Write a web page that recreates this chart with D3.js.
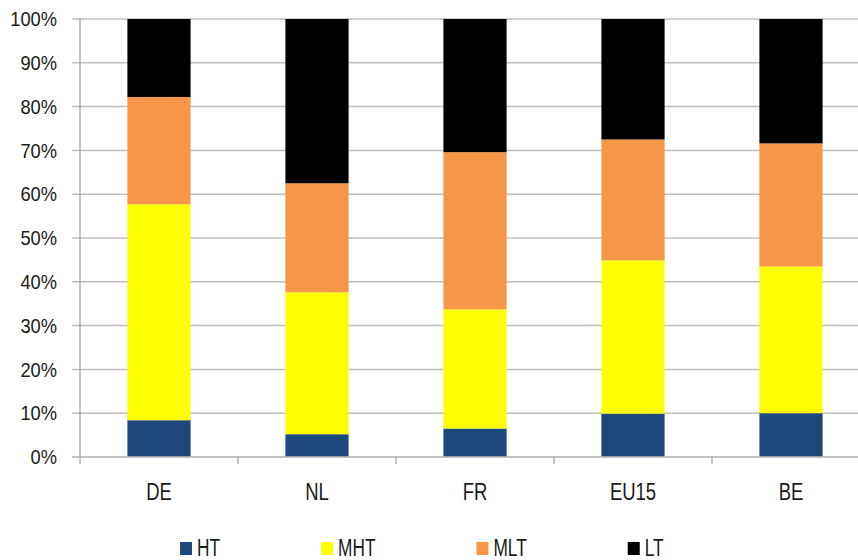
<!DOCTYPE html>
<html>
<head>
<meta charset="utf-8">
<script src="https://cdn.jsdelivr.net/npm/d3@7"></script>
<style>
  html, body { margin: 0; padding: 0; background: #fff; }
  svg { display: block; }
  text { font-family: "Liberation Sans Narrow", "Arial Narrow", "Liberation Sans", sans-serif; fill: #1a1a1a; }
</style>
</head>
<body>
<svg id="chart" width="858" height="560"></svg>
<script>
// Technology-intensity shares of manufacturing, by country (percent of total)
const categories = ["DE", "NL", "FR", "EU15", "BE"];
const seriesNames = ["HT", "MHT", "MLT", "LT"];
const HT  = [8.4, 5.2, 6.5, 9.9, 10.0];
const MHT = [49.3, 32.4, 27.2, 35.0, 33.5];
const MLT = [24.5, 24.9, 35.9, 27.6, 28.1];
const LT  = [17.8, 37.5, 30.4, 27.5, 28.4];
const yTicks = [0, 10, 20, 30, 40, 50, 60, 70, 80, 90, 100];
const colors = ["#1f497d", "#ffff00", "#f79646", "#000000"];

const seriesValues = [HT, MHT, MLT, LT];
const rows = categories.map((c, i) => {
  const r = { cat: c };
  seriesNames.forEach((s, k) => { r[s] = seriesValues[k][i]; });
  return r;
});

// squeeze a text element horizontally (narrow face look) while keeping its anchor x
function narrow(sel, f) {
  sel.each(function () {
    const t = d3.select(this);
    const x0 = +t.attr("x") || 0;
    t.attr("x", x0 / f).attr("transform", `scale(${f},1)`);
  });
}

const svg = d3.select("#chart");
const plotLeft = 80, plotRight = 870, plotTop = 19, plotBottom = 457;

const x = d3.scaleBand().domain(categories).range([plotLeft, plotRight])
  .paddingInner(0.6).paddingOuter(0.3);
const step = x.step();
const y = d3.scaleLinear().domain([0, 100]).range([plotBottom, plotTop]);

// horizontal gridlines
svg.append("g").selectAll("line").data(yTicks).join("line")
  .attr("x1", plotLeft - 8).attr("x2", 858)
  .attr("y1", d => y(d)).attr("y2", d => y(d))
  .attr("stroke", "#bfbfbf").attr("stroke-width", 1.5);

// y axis
const yAxis = d3.axisLeft(y).tickValues(yTicks).tickFormat(d => d + "%").tickSize(0).tickPadding(23);
const gy = svg.append("g").attr("transform", `translate(${plotLeft},0)`).call(yAxis);
gy.select(".domain").remove();
gy.selectAll("text").attr("font-size", 21).attr("font-family", null).style("fill", "#1a1a1a")
  .call(narrow, 0.87);
svg.append("line").attr("x1", plotLeft).attr("x2", plotLeft).attr("y1", plotTop).attr("y2", plotBottom + 7)
  .attr("stroke", "#8c8c8c").attr("stroke-width", 1);

// stacked bars
const stack = d3.stack().keys(seriesNames);
const layers = stack(rows);
svg.append("g").selectAll("g").data(layers).join("g")
  .attr("fill", (d, i) => colors[i])
  .selectAll("rect").data(d => d).join("rect")
  .attr("x", d => x(d.data.cat))
  .attr("width", x.bandwidth())
  .attr("y", d => y(d[1]))
  .attr("height", d => y(d[0]) - y(d[1]));

// category axis
const gx = svg.append("g").attr("transform", `translate(0,${plotBottom})`);
gx.append("line").attr("x1", plotLeft - 8).attr("x2", 858).attr("y1", 0).attr("y2", 0)
  .attr("stroke", "#bfbfbf").attr("stroke-width", 1.5);
gx.selectAll("line.tick").data(categories.slice(1)).join("line").attr("class", "tick")
  .attr("x1", d => x(d) - x.paddingOuter() * step)
  .attr("x2", d => x(d) - x.paddingOuter() * step)
  .attr("y1", 0).attr("y2", 7)
  .attr("stroke", "#8c8c8c");
gx.selectAll("text").data(categories).join("text")
  .attr("x", d => x(d) + x.bandwidth() / 2)
  .attr("y", 43)
  .attr("text-anchor", "middle")
  .attr("font-size", 24)
  .text(d => d)
  .call(narrow, 0.77);

// legend
const legendSqueeze = 0.72;
const legend = svg.append("g").attr("transform", "translate(180,0)");
let lx = 0;
seriesNames.forEach((s, i) => {
  const g = legend.append("g").attr("transform", `translate(${lx},0)`);
  g.append("rect").attr("x", 0).attr("y", 542).attr("width", 12).attr("height", 13).attr("fill", colors[i]);
  const t = g.append("text").attr("x", 17).attr("y", 556).attr("font-size", 24).text(s);
  const w = t.node().getComputedTextLength() * legendSqueeze;
  t.call(narrow, legendSqueeze);
  lx += 17 + w + 101;
});
</script>
</body>
</html>
